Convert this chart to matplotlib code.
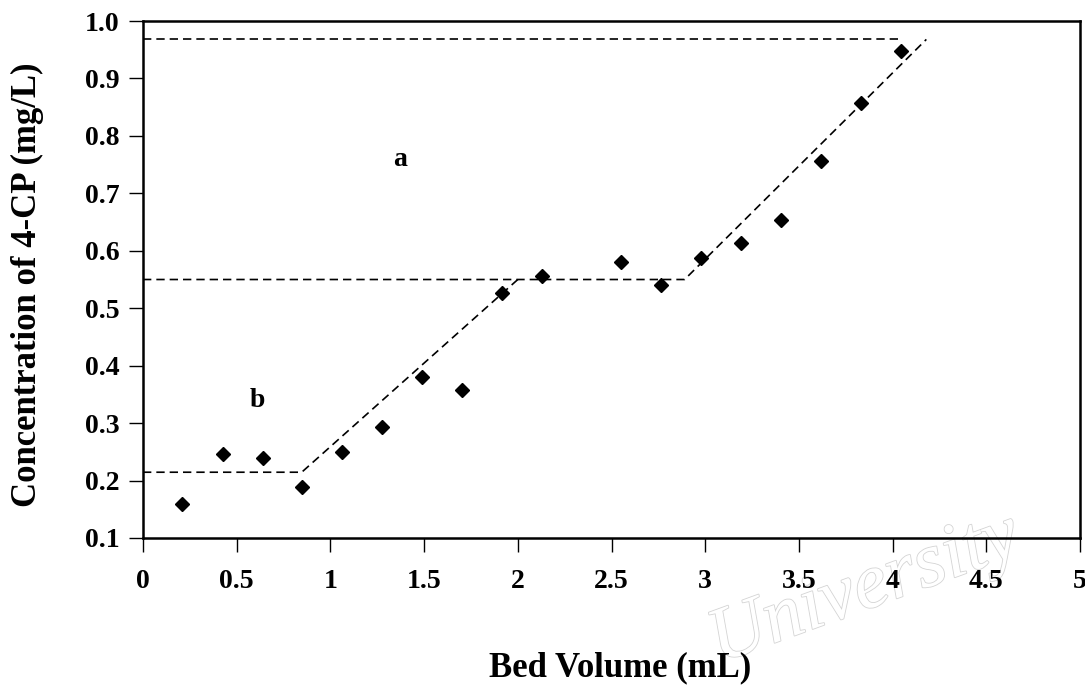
import matplotlib
matplotlib.use("Agg")
import matplotlib.pyplot as plt
import matplotlib.patheffects as pe

plt.rcParams['font.family'] = ['Liberation Serif', 'DejaVu Serif']
plt.rcParams['font.weight'] = 'bold'

# measured points
bed_volume = [0.21, 0.425, 0.64, 0.85, 1.06, 1.275, 1.49, 1.70, 1.915, 2.13,
              2.55, 2.765, 2.98, 3.19, 3.405, 3.62, 3.83, 4.045]
conc = [0.160, 0.246, 0.240, 0.189, 0.250, 0.294, 0.380, 0.358, 0.526, 0.556,
        0.581, 0.540, 0.587, 0.614, 0.654, 0.757, 0.857, 0.947]

# dashed guide lines (b, a, top plateau)
b_x = [0, 0.847, 2.0]
b_y = [0.2145, 0.2145, 0.55]
a_x = [0, 2.89, 4.18]
a_y = [0.55, 0.55, 0.968]
top_x = [0, 4.05]
top_y = [0.968, 0.968]

x_ticks = [0, 0.5, 1, 1.5, 2, 2.5, 3, 3.5, 4, 4.5, 5]
x_ticklabels = ['0', '0.5', '1', '1.5', '2', '2.5', '3', '3.5', '4', '4.5', '5']
y_ticks = [0.1, 0.2, 0.3, 0.4, 0.5, 0.6, 0.7, 0.8, 0.9, 1.0]

fig = plt.figure(figsize=(10.85, 6.87), dpi=100)

# faint watermark behind everything
fig.text(865 / 1085, 1 - 590 / 687, 'University', rotation=20, fontsize=56,
         fontstyle='italic', fontweight='normal', color='white', ha='center', va='center',
         path_effects=[pe.withStroke(linewidth=1.2, foreground='#d4d4d4')], zorder=-5)

ax = fig.add_axes([0.1318, 0.2169, 0.8636, 0.7525])
ax.patch.set_alpha(0)

for xs, ys in [(b_x, b_y), (a_x, a_y), (top_x, top_y)]:
    ax.plot(xs, ys, color='black', lw=1.2, linestyle=(0, (5, 3)))

ax.plot(bed_volume, conc, 'D', color='black', markersize=7, zorder=3)

ax.text(1.37, 0.759, 'a', fontsize=20, fontweight='bold', ha='center', va='center')
ax.text(0.61, 0.340, 'b', fontsize=20, fontweight='bold', ha='center', va='center')

ax.set_xlim(0, 5)
ax.set_ylim(0.1, 1.0)
ax.set_xticks(x_ticks)
ax.set_xticklabels(x_ticklabels)
ax.set_yticks(y_ticks)
ax.set_yticklabels(['%.1f' % v for v in y_ticks])
ax.tick_params(axis='x', direction='out', length=10, width=1, pad=12, labelsize=20)
ax.tick_params(axis='y', direction='out', length=10, width=1, pad=7, labelsize=20)
for s in ax.spines.values():
    s.set_linewidth(1.8)

fig.text(27 / 1085, 1 - 285 / 687, 'Concentration of 4-CP (mg/L)', rotation=90,
         fontsize=25, fontweight='bold', ha='center', va='center')
fig.text(620 / 1085, 1 - 668 / 687, 'Bed Volume (mL)',
         fontsize=25, fontweight='bold', ha='center', va='center')

fig.savefig('out.png', dpi=100)
